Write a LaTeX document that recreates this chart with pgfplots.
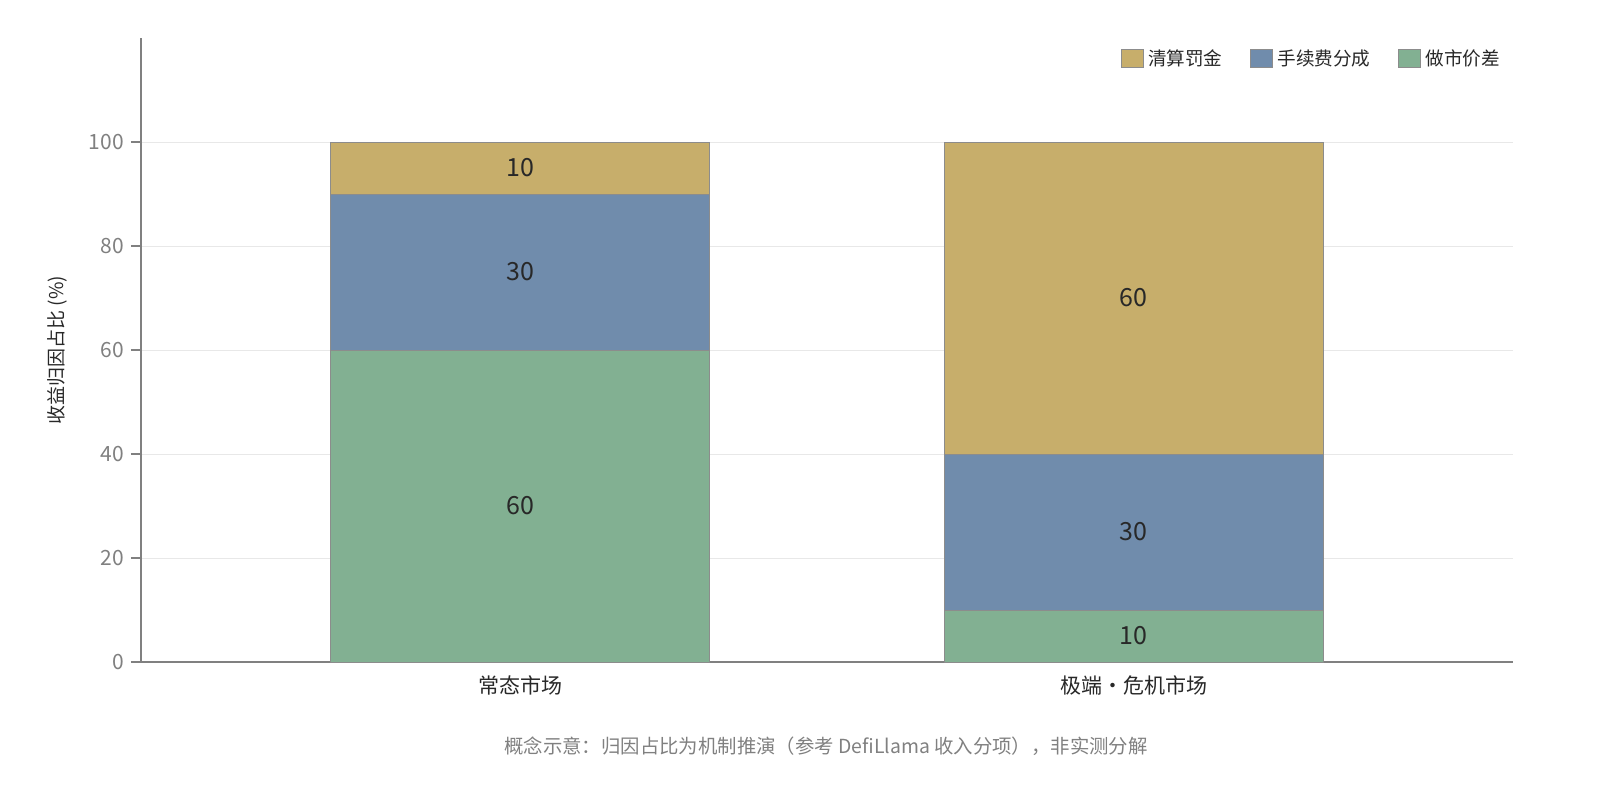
\documentclass[border=0pt]{standalone}
\usepackage{fontspec}
\setmainfont{Noto Sans CJK SC}
\usepackage{pgfplots}
\pgfplotsset{compat=1.18}

\definecolor{penalty}{RGB}{199,174,107}
\definecolor{feeshare}{RGB}{112,140,172}
\definecolor{spread}{RGB}{130,176,146}
\definecolor{edgegray}{RGB}{140,140,140}
\definecolor{axisgray}{RGB}{128,128,128}
\definecolor{gridgray}{RGB}{232,232,232}
\definecolor{labeldark}{RGB}{40,40,40}

\begin{document}
\begin{tikzpicture}
  \begin{axis}[
    at={(70.5pt,69pt)}, anchor=south west,
    scale only axis,
    width=686pt, height=312pt,
    ybar stacked,
    bar width=189.5pt,
    xmin=-0.619, xmax=1.619,
    ymin=0, ymax=120,
    xtick={0,1},
    xticklabels={常态市场, 极端・危机市场},
    xticklabel style={font=\fontsize{10.5pt}{13pt}\selectfont, text=labeldark, yshift=1.5pt},
    xtick style={draw=none},
    ytick={0,20,40,60,80,100},
    yticklabel style={font=\fontsize{10.5pt}{12pt}\selectfont, text=axisgray},
    /pgf/number format/assume math mode=true,
    ytick style={axisgray, line width=0.8pt},
    tick align=outside,
    major tick length=5pt,
    ymajorgrids,
    grid style={gridgray, line width=0.5pt},
    axis x line*=bottom,
    axis y line*=left,
    axis line style={axisgray, line width=1pt},
    ylabel={收益归因占比 (\%)},
    ylabel style={font=\fontsize{9.5pt}{11pt}\selectfont, text=labeldark, yshift=4pt},
    legend style={at={(0.998,0.995)}, anchor=north east, draw=none,
      font=\fontsize{9.3pt}{11pt}\selectfont, text=labeldark,
      legend columns=-1, /tikz/every even column/.append style={column sep=12pt}},
    legend image code/.code={\draw[#1, draw=edgegray] (0pt,-4.5pt) rectangle (11pt,4.5pt);},
    reverse legend,
    nodes near coords,
    every node near coord/.append style={anchor=center, font=\fontsize{12.5pt}{14pt}\selectfont,
      text=labeldark},
    clip=false,
  ]
    \addplot[fill=spread, draw=edgegray, line width=0.5pt] coordinates {(0,60) (1,10)};
    \addlegendentry{做市价差}
    \addplot[fill=feeshare, draw=edgegray, line width=0.5pt] coordinates {(0,30) (1,30)};
    \addlegendentry{手续费分成}
    \addplot[fill=penalty, draw=edgegray, line width=0.5pt] coordinates {(0,10) (1,60)};
    \addlegendentry{清算罚金}
  \end{axis}
  \node[font=\fontsize{9.7pt}{11pt}\selectfont, text=axisgray] at (413pt,27pt)
    {概念示意：归因占比为机制推演（参考 DefiLlama 收入分项），非实测分解};
  \pgfresetboundingbox
  \useasboundingbox (0,0) rectangle (800pt,400pt);
\end{tikzpicture}
\end{document}
